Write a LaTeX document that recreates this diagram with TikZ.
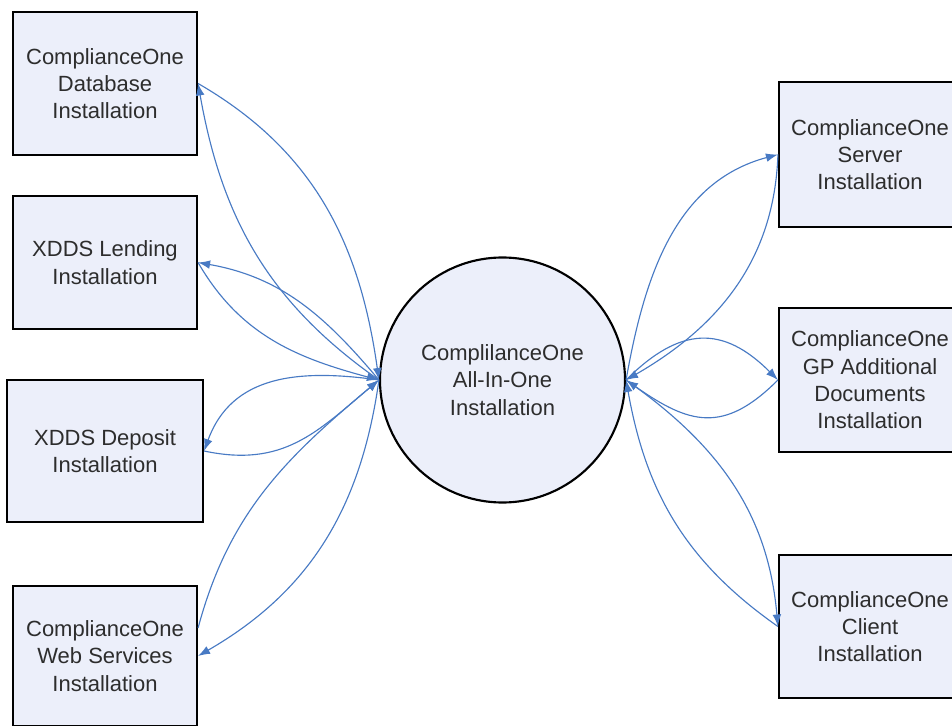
\documentclass[tikz,border=0pt]{standalone}
\usepackage{fontspec}
\setmainfont{Liberation Sans}
\usetikzlibrary{arrows.meta}
\definecolor{boxfill}{RGB}{236,239,250}
\definecolor{linkblue}{RGB}{72,122,196}
\definecolor{txt}{RGB}{45,45,45}
\begin{document}
\begin{tikzpicture}[x=0.75pt,y=0.75pt,
  box/.style={draw=black,line width=1.6pt,fill=boxfill,inner sep=0pt,align=center,
    text=txt,font=\fontsize{16.5pt}{20.5pt}\selectfont},
  hub/.style={draw=black,line width=1.6pt,fill=boxfill,circle,inner sep=0pt,align=center,
    minimum size=183.75pt,text=txt,font=\fontsize{16.5pt}{20.5pt}\selectfont},
  link/.style={draw=linkblue,line width=0.85pt,-{Latex[length=9pt,width=6.5pt]}}]
\useasboundingbox (0,0) rectangle (952,725);
\clip (0,0) rectangle (952,725);
\fill[white] (0,0) rectangle (952,725);
% nodes
\node[hub] (c) at (502.5,345) {ComplilanceOne\\All-In-One\\Installation};
\node[box,minimum width=138pt,minimum height=107.25pt] (b1) at (105,641.5) {ComplianceOne\\Database\\Installation};
\node[box,minimum width=138pt,minimum height=99.75pt] (b2) at (105,462.5) {XDDS Lending\\Installation};
\node[box,minimum width=147pt,minimum height=106.5pt] (b3) at (105,274) {XDDS Deposit\\Installation};
\node[box,minimum width=138pt,minimum height=105pt] (b4) at (105,69) {ComplianceOne\\Web Services\\Installation};
\node[box,minimum width=136.5pt,minimum height=108.75pt] (b5) at (870,570.5) {ComplianceOne\\Server\\Installation};
\node[box,minimum width=136.5pt,minimum height=108pt] (b6) at (870,345) {ComplianceOne\\GP Additional\\Documents\\Installation};
\node[box,minimum width=136.5pt,minimum height=107.25pt] (b7) at (870,98.5) {ComplianceOne\\Client\\Installation};
\coordinate (b4up) at ([yshift=21pt]b4.east);
% left connectors
\draw[link] (c.west) to[out=145,in=-80] (b1.east);
\draw[link] (b1.east) to[out=-30,in=98] (c.west);
\draw[link] (c.west) to[out=130,in=-10] (b2.east);
\draw[link] (b2.east) to[out=-60,in=165] (c.west);
\draw[link] (c.west) to[out=172,in=70,looseness=1.1] (b3.east);
\draw[link] (b3.east) to[out=-12,in=-140,looseness=1.1] (c.west);
\draw[link] (c.west) to[out=-98,in=30] (b4.east);
\draw[link] (b4up) to[out=75,in=-140] (c.west);
% right connectors
\draw[link] (c.east) to[out=80,in=195] (b5.west);
\draw[link] (b5.west) to[out=-92,in=30] (c.east);
\draw[link] (c.east) to[out=45,in=135,looseness=1.3] (b6.west);
\draw[link] (b6.west) to[out=-135,in=-35,looseness=1.3] (c.east);
\draw[link] (c.east) to[out=-35,in=95] (b7.west);
\draw[link] (b7.west) to[out=145,in=-80] (c.east);
\end{tikzpicture}
\end{document}
